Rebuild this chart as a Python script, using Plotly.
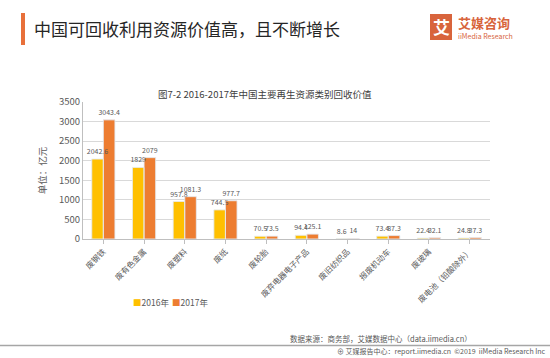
import plotly.graph_objects as go

categories = ["废钢铁", "废有色金属", "废塑料", "废纸", "废轮胎", "废弃电器电子产品",
              "废旧纺织品", "报废机动车", "废玻璃", "废电池（铅酸除外）"]
values_2016 = [2042.6, 1829, 957.8, 744.5, 70.5, 94.4, 8.6, 73.4, 22.4, 24.8]
values_2017 = [3043.4, 2079, 1081.3, 977.7, 73.5, 125.1, 14, 87.3, 32.1, 37.3]
labels_2016 = ["2042.6", "1829", "957.8", "744.5", "70.5", "94.4", "8.6", "73.4", "22.4", "24.8"]
labels_2017 = ["3043.4", "2079", "1081.3", "977.7", "73.5", "125.1", "14", "87.3", "32.1", "37.3"]
series_names = ["2016年", "2017年"]
y_ticks = [0, 500, 1000, 1500, 2000, 2500, 3000, 3500]

FONT = "Noto Sans CJK SC, Noto Sans, sans-serif"
C16 = "#FFC000"
C17 = "#ED7D31"
TXT = "#595959"

fig = go.Figure()
fig.add_trace(go.Bar(x=categories, y=values_2016, name=series_names[0], marker_color=C16,
                     offsetgroup="a", showlegend=False))
fig.add_trace(go.Bar(x=categories, y=values_2017, name=series_names[1], marker_color=C17,
                     offsetgroup="b", showlegend=False))
# label layers drawn on top of all bars
fig.add_trace(go.Bar(x=categories, y=values_2016, marker_color="rgba(0,0,0,0)", offsetgroup="a",
                     text=labels_2016, textposition="outside", cliponaxis=False, showlegend=False,
                     hoverinfo="skip", textfont=dict(size=7, color=TXT, family=FONT)))
fig.add_trace(go.Bar(x=categories, y=values_2017, marker_color="rgba(0,0,0,0)", offsetgroup="b",
                     text=labels_2017, textposition="outside", cliponaxis=False, showlegend=False,
                     hoverinfo="skip", textfont=dict(size=7, color=TXT, family=FONT)))

def px_x(p):
    return (p - 83) / 407

def px_y(p):
    return (239 - p) / 137

fig.update_layout(
    width=550, height=358,
    margin=dict(l=83, r=60, t=102, b=119),
    paper_bgcolor="white", plot_bgcolor="white",
    font=dict(family=FONT, color=TXT),
    barmode="group", bargap=0.43, bargroupgap=0,
    uniformtext=dict(minsize=7, mode="show"),
    showlegend=False,
    xaxis=dict(tickangle=-45, tickfont=dict(size=8, color=TXT),
               showline=True, linecolor="#BFBFBF", ticks="outside", ticklen=4,
               tickcolor="#BFBFBF", showgrid=False),
    yaxis=dict(range=[0, 3500], tickvals=y_ticks, tickfont=dict(size=9.5, color=TXT),
               showgrid=True, gridcolor="#D9D9D9", showline=True, linecolor="#BFBFBF",
               zeroline=False, ticks="", title=dict(text="单位：亿元", font=dict(size=9.5, color=TXT),
                                                  standoff=10)),
)

# chart title
fig.add_annotation(text="图7-2 2016-2017年中国主要再生资源类别回收价值", xref="paper", yref="paper",
                   x=px_x(265), y=px_y(94), xanchor="center", yanchor="middle", showarrow=False,
                   font=dict(size=9.5, color="#404040", family=FONT))

# legend (as annotations)
fig.add_annotation(text=f"<span style='color:{C16}'>■</span>{series_names[0]}", xref="paper", yref="paper",
                   x=px_x(131), y=px_y(302), xanchor="left", yanchor="middle", showarrow=False,
                   font=dict(size=8.5, color=TXT, family=FONT))
fig.add_annotation(text=f"<span style='color:{C17}'>■</span>{series_names[1]}", xref="paper", yref="paper",
                   x=px_x(170), y=px_y(302), xanchor="left", yanchor="middle", showarrow=False,
                   font=dict(size=8.5, color=TXT, family=FONT))

# header bar and title
fig.add_shape(type="rect", xref="paper", yref="paper",
              x0=px_x(21), x1=px_x(25), y0=px_y(45), y1=px_y(13),
              fillcolor="#E8703A", line_width=0, layer="above")
fig.add_annotation(text="中国可回收利用资源价值高，且不断增长", xref="paper", yref="paper",
                   x=px_x(32), y=px_y(28), xanchor="left", yanchor="middle",
                   showarrow=False, font=dict(size=17, color="#262626", family=FONT))

# logo
fig.add_shape(type="rect", xref="paper", yref="paper",
              x0=px_x(430), x1=px_x(452), y0=px_y(40), y1=px_y(14),
              fillcolor="#D8643C", line_width=0, layer="above")
fig.add_annotation(text="<b>艾</b>", xref="paper", yref="paper",
                   x=px_x(441), y=px_y(27), xanchor="center", yanchor="middle",
                   showarrow=False, font=dict(size=17, color="white", family=FONT))
fig.add_annotation(text="<b>艾媒咨询</b>", xref="paper", yref="paper",
                   x=px_x(456), y=px_y(22), xanchor="left", yanchor="middle",
                   showarrow=False, font=dict(size=13, color="#D8643C", family=FONT))
fig.add_annotation(text="iiMedia Research", xref="paper", yref="paper",
                   x=px_x(456), y=px_y(36), xanchor="left", yanchor="middle",
                   showarrow=False, font=dict(size=7, color="#D8643C", family=FONT))

# source
fig.add_annotation(text="数据来源：商务部，艾媒数据中心（data.iimedia.cn）", xref="paper", yref="paper",
                   x=px_x(288), y=px_y(338), xanchor="left", yanchor="middle",
                   showarrow=False, font=dict(size=7.5, color=TXT, family=FONT))

# footer line and text
fig.add_shape(type="line", xref="paper", yref="paper",
              x0=px_x(0), x1=px_x(550), y0=px_y(345.5), y1=px_y(345.5),
              line=dict(color="#A6A6A6", width=1.5))
fig.add_annotation(text="⊕ 艾媒报告中心：report.iimedia.cn  ©2019  iiMedia Research Inc",
                   xref="paper", yref="paper",
                   x=px_x(548), y=px_y(351), xanchor="right", yanchor="middle",
                   showarrow=False, font=dict(size=7, color=TXT, family=FONT))

fig.write_html("out.html", config={"displayModeBar": False},
               post_script="document.body.style.margin='0';")
